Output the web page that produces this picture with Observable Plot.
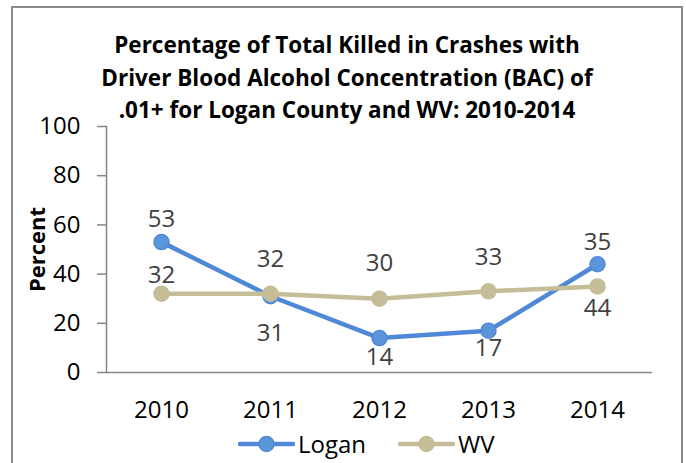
<!DOCTYPE html>
<html><head><meta charset="utf-8">
<script src="https://cdn.jsdelivr.net/npm/d3@7"></script>
<script src="https://cdn.jsdelivr.net/npm/@observablehq/plot@0.6"></script>
<style>
body{margin:0;background:#fff;}
#wrap{position:relative;width:686px;height:463px;overflow:hidden;font-family:"Open Sans",sans-serif;background:#fff;}
#border{position:absolute;left:11px;top:6px;width:672px;height:480px;border:2px solid #8a8a8a;box-sizing:border-box;}
#title{position:absolute;left:0;width:694px;top:29px;text-align:center;font-weight:bold;font-size:22.5px;line-height:32.5px;color:#000;}
#chart{position:absolute;left:0;top:0;}
.leg{position:absolute;top:427px;display:flex;align-items:center;font-size:24px;color:#000;}
.leg svg{margin-right:3px;}
</style>
</head><body>
<div id="wrap">
<div id="border"></div>
<div id="chart"></div>
<div id="title"></div>
<div id="legend"></div>
</div>
<script>
const years = ["2010","2011","2012","2013","2014"];
const seriesNames = ["Logan","WV"];
const loganValues = [53, 31, 14, 17, 44];
const wvValues = [32, 32, 30, 33, 35];
const loganLabels = ["53","31","14","17","35"];
const wvLabels = ["32","32","30","33","44"];
const yTicks = [0, 20, 40, 60, 80, 100];
const titleLines = ["Percentage of Total Killed in Crashes with","Driver Blood Alcohol Concentration (BAC) of",".01+ for Logan County and WV: 2010-2014"];
const yTitle = "Percent";

const colors = {Logan: {line:"#4f88d6", fill:"#5b95da"}, WV: {line:"#c4bd97", fill:"#c4bd97"}};
// label offsets (layout, px)
const loganDy = [-23, 37, 19, 18, -22];
const wvDy = [-18, -34, -35, -34, 22];

const logan = years.map((y,i)=>({year:y, value:loganValues[i], label:loganLabels[i], dy:loganDy[i]}));
const wv = years.map((y,i)=>({year:y, value:wvValues[i], label:wvLabels[i], dy:wvDy[i]}));

document.getElementById("title").innerHTML = titleLines.join("<br>");

const labelMarks = (data) => data.map(d => Plot.text([d], {x:"year", y:"value", text:"label", dy:d.dy, fill:"#404040", fontSize:24}));

const chart = Plot.plot({
  width: 686, height: 463,
  marginLeft: 106, marginRight: 34, marginTop: 126, marginBottom: 91,
  style: {fontFamily: '"Open Sans", sans-serif', background: "transparent"},
  x: {type: "point", domain: years, padding: 0.5},
  y: {domain: [0, 100]},
  marks: [
    Plot.frame({anchor: "left", stroke: "#868686", strokeWidth: 1.5}),
    Plot.ruleY([0], {stroke: "#868686", strokeWidth: 1.5}),
    Plot.axisY({ticks: yTicks, tickSize: 9, tickPadding: 17, stroke: "#868686", strokeWidth: 1.5, fontSize: 24, fill: "#000", label: null}),
    Plot.axisX({tickSize: 0, tickPadding: 28, fontSize: 24, fill: "#000", label: null}),
    Plot.text([yTitle], {frameAnchor: "left", textAnchor: "middle", dx: -69, rotate: -90, fontSize: 22, fontWeight: "bold", fill: "#000"}),
    Plot.line(logan, {x: "year", y: "value", stroke: colors.Logan.line, strokeWidth: 4.5}),
    Plot.dot(logan, {x: "year", y: "value", r: 7.5, fill: colors.Logan.fill, stroke: colors.Logan.line, strokeWidth: 1.5}),
    Plot.line(wv, {x: "year", y: "value", stroke: colors.WV.line, strokeWidth: 4.5}),
    Plot.dot(wv, {x: "year", y: "value", r: 7.5, fill: colors.WV.fill, stroke: colors.WV.line, strokeWidth: 1.5}),
    ...labelMarks(logan),
    ...labelMarks(wv)
  ]
});
document.getElementById("chart").appendChild(chart);

// legend
const legend = document.getElementById("legend");
const legLeft = [238, 398];
seriesNames.forEach((name, i) => {
  const item = document.createElement("div");
  item.className = "leg";
  item.style.left = legLeft[i] + "px";
  const c = colors[name];
  item.innerHTML = `<svg width="57" height="20"><line x1="2" y1="10" x2="55" y2="10" stroke="${c.line}" stroke-width="4.5" stroke-linecap="round"/><circle cx="28.5" cy="10" r="7.5" fill="${c.fill}" stroke="${c.line}" stroke-width="1.5"/></svg><span>${name}</span>`;
  legend.appendChild(item);
});
</script>
</body></html>
